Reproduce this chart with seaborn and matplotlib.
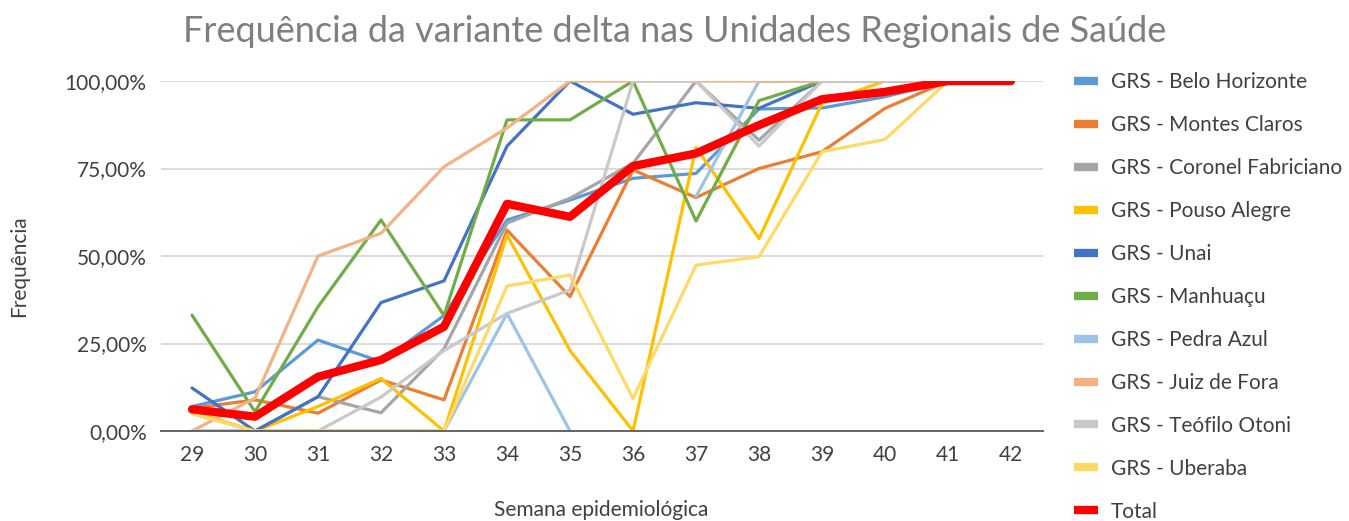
import numpy as np
import pandas as pd
import matplotlib
matplotlib.use('Agg')
import matplotlib.pyplot as plt
import seaborn as sb
from matplotlib.ticker import FuncFormatter

weeks = [29, 30, 31, 32, 33, 34, 35, 36, 37, 38, 39, 40, 41, 42]

belo_horizonte = [7, 11.2, 26, 19.8, 33, 60.3, 66, 72.2, 73.6, 92, 92.3, 95.5, 100, 100]
montes_claros = [6.5, 8.9, 5.1, 14.6, 8.9, 57.4, 38.4, 74.6, 66.7, 75, 79.8, 92.2, 100, 100]
coronel_fabriciano = [5, 0, 9.8, 5.2, 23.5, 59.4, 66.5, 76.5, 100, 83.1, 100, 100, 100, 100]
pouso_alegre = [5.5, 0, 7, 15, 0, 56, 23, 0, 81, 55, 93.6, 100, 100, 100]
unai = [12.3, 0, 9.8, 36.7, 42.9, 81.4, 100, 90.5, 93.8, 92.2, 100, 100, 100, 100]
manhuacu = [33.1, 5.5, 35.5, 60.3, 33, 88.9, 88.9, 100, 60, 94.4, 100, 100, 100, 100]
pedra_azul = [0, 0, 0, 0, 0, 33.6, 0, np.nan, 67, 100, 100, 100, 100, 100]
juiz_de_fora = [0, 9.4, 50, 56.5, 75.5, 86.6, 100, 100, 100, 100, 100, 100, 100, 100]
teofilo_otoni = [0, 0, 0, 9.7, 23, 33.6, 40.3, 100, 100, 81.4, 100, 100, 100, 100]
uberaba = [5, 0, 0, 0, 0, 41.4, 44.6, 9.3, 47.4, 49.8, 79.8, 83.3, 100, 100]
total = [6.2, 4.1, 15.5, 20.3, 29.8, 64.9, 61.2, 75.7, 79.3, 87.4, 94.8, 96.9, 100, 100]

series = {
    'GRS - Belo Horizonte': belo_horizonte,
    'GRS - Montes Claros': montes_claros,
    'GRS - Coronel Fabriciano': coronel_fabriciano,
    'GRS - Pouso Alegre': pouso_alegre,
    'GRS - Unai': unai,
    'GRS - Manhuaçu': manhuacu,
    'GRS - Pedra Azul': pedra_azul,
    'GRS - Juiz de Fora': juiz_de_fora,
    'GRS - Teófilo Otoni': teofilo_otoni,
    'GRS - Uberaba': uberaba,
    'Total': total,
}
colors = ['#5B9BD5', '#ED7D31', '#A5A5A5', '#FFC000', '#4472C4', '#70AD47',
          '#9DC3E6', '#F4B183', '#C9C9C9', '#FFD966', '#FF0000']

sb.set_style('white')
plt.rcParams['font.family'] = ['Lato', 'DejaVu Sans']

fig = plt.figure(figsize=(13.49, 5.21), dpi=100)
ax = fig.add_axes([0.119, 0.1727, 0.6538, 0.6718])

for (name, vals), col in zip(series.items(), colors):
    df = pd.DataFrame({'week': weeks, 'freq': np.array(vals) / 100})
    # missing weeks break the line: give each run its own unit
    df['seg'] = df['freq'].isna().cumsum()
    df = df.dropna()
    lw = 6 if name == 'Total' else 2.3
    sb.lineplot(data=df, x='week', y='freq', units='seg', color=col, linewidth=lw,
                ax=ax, estimator=None, sort=False, legend=False)
    ax.plot([], [], color=col, label=name)

if ax.get_legend() is not None:
    ax.get_legend().remove()

ax.set_xlim(28.5, 42.5)
ax.set_ylim(0, 1)
ax.set_xticks(weeks)
ax.set_yticks([0, 0.25, 0.5, 0.75, 1.0])
ax.yaxis.set_major_formatter(FuncFormatter(lambda v, p: f'{v * 100:.2f}%'.replace('.', ',')))
ax.grid(axis='y', color='#D9D9D9', linewidth=1.3)
ax.set_axisbelow(True)
for s in ['top', 'right', 'left']:
    ax.spines[s].set_visible(False)
ax.spines['bottom'].set_color('#595959')
ax.spines['bottom'].set_linewidth(1.3)
ax.tick_params(axis='both', colors='#404040', labelsize=15, length=0, pad=10)
ax.set_xlabel('')
ax.set_ylabel('')

fig.text(0.500, 0.94, 'Frequência da variante delta nas Unidades Regionais de Saúde',
         ha='center', va='center', fontsize=26, color='#7F7F7F')
fig.text(0.014, 0.49, 'Frequência', rotation=90, ha='center', va='center',
         fontsize=15, color='#404040')
fig.text(0.446, 0.022, 'Semana epidemiológica', ha='center', va='center',
         fontsize=15, color='#404040')

handles, labels = ax.get_legend_handles_labels()
leg = fig.legend(handles, labels, loc='upper left', bbox_to_anchor=(0.782, 0.897),
                 frameon=False, fontsize=15, labelspacing=1.10, handlelength=1.15,
                 handletextpad=0.62, labelcolor='#404040')
for h in leg.get_lines():
    h.set_linewidth(6)
    h.set_solid_capstyle('butt')

plt.savefig('out.png', dpi=100)
